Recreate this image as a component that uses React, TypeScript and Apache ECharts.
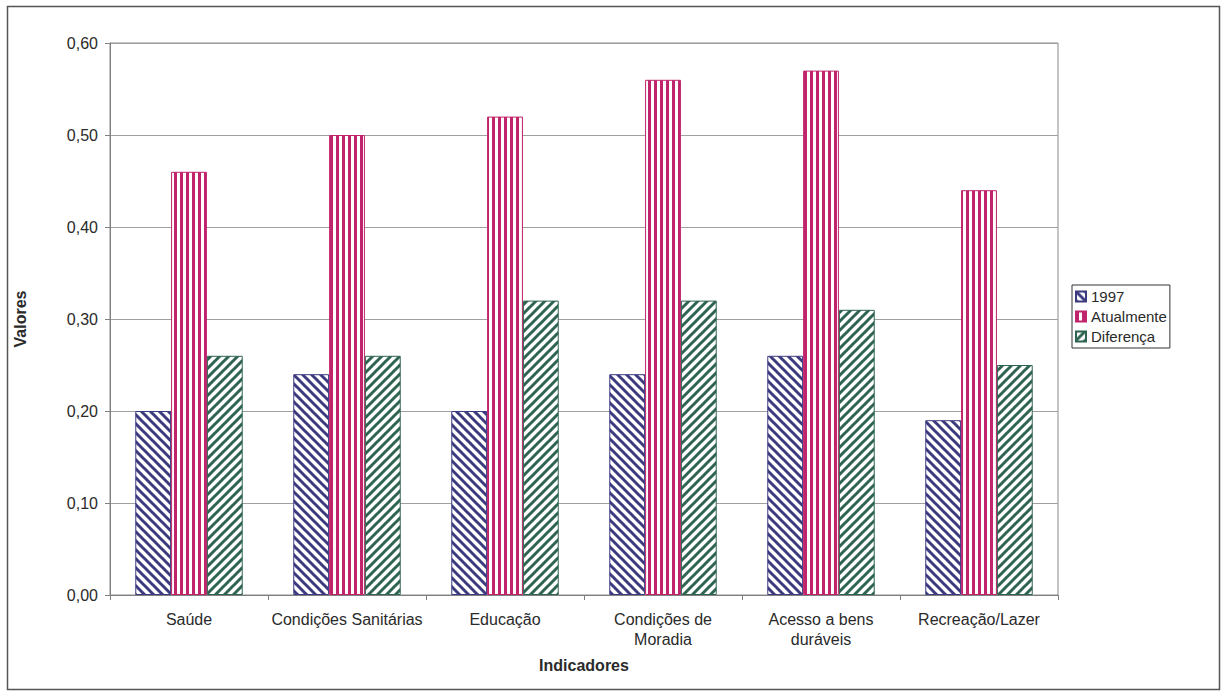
import React, { useEffect, useRef } from "react";
import * as echarts from "echarts";

const categories = [
  "Saúde",
  "Condições Sanitárias",
  "Educação",
  "Condições de\nMoradia",
  "Acesso a bens\nduráveis",
  "Recreação/Lazer",
];
const values1997 = [0.2, 0.24, 0.2, 0.24, 0.26, 0.19];
const valuesAtual = [0.46, 0.5, 0.52, 0.56, 0.57, 0.44];
const valuesDif = [0.26, 0.26, 0.32, 0.32, 0.31, 0.25];
const yTicks = [0, 0.1, 0.2, 0.3, 0.4, 0.5, 0.6];

function makePattern(kind: string, color: string) {
  const c = document.createElement("canvas");
  const s = kind === "vert" ? 6 : 9;
  c.width = s;
  c.height = s;
  const ctx = c.getContext("2d")!;
  ctx.fillStyle = "#ffffff";
  ctx.fillRect(0, 0, s, s);
  ctx.strokeStyle = color;
  ctx.fillStyle = color;
  if (kind === "vert") {
    ctx.fillRect(0, 0, 3, s);
  } else {
    ctx.lineWidth = 3;
    ctx.lineCap = "square";
    for (let k = -1; k <= 1; k++) {
      ctx.beginPath();
      if (kind === "back") {
        ctx.moveTo(k * s - 1, -1);
        ctx.lineTo(k * s + s + 1, s + 1);
      } else {
        ctx.moveTo(k * s - 1, s + 1);
        ctx.lineTo(k * s + s + 1, -1);
      }
      ctx.stroke();
    }
  }
  return { image: c as any, repeat: "repeat", imageWidth: s, imageHeight: s } as any;
}

export default function App() {
  const ref = useRef<HTMLDivElement>(null);
  useEffect(() => {
    const chart = echarts.init(ref.current!, undefined, { renderer: "svg" });
    const navy = "#3d3b80";
    const magenta = "#c0256c";
    const green = "#2f6550";
    const font = "'Liberation Sans', Arial, sans-serif";
    const txt = "#2a2a2a";
    const mk = (name: string, data: number[], kind: string, col: string) => ({
      name,
      type: "bar",
      data,
      barGap: "0%",
      barCategoryGap: "32%",
      itemStyle: { color: makePattern(kind, col), borderColor: col, borderWidth: 1 },
    });
    chart.setOption({
      animation: false,
      backgroundColor: "#ffffff",
      textStyle: { fontFamily: font },
      grid: { left: 110, right: 164, top: 43, bottom: 100, show: true, borderColor: "#8a8a8a", borderWidth: 1 },
      legend: {
        orient: "vertical",
        left: 1072,
        top: 285,
        icon: "rect",
        itemWidth: 10,
        itemHeight: 10,
        itemGap: 5,
        padding: [4, 3, 4, 3],
        borderColor: "#333",
        borderWidth: 1,
        textStyle: { fontSize: 15, color: txt, fontFamily: font, padding: [0, 0, 0, 0] },
        data: ["1997", "Atualmente", "Diferença"],
      },
      xAxis: {
        type: "category",
        data: categories,
        name: "Indicadores",
        nameLocation: "middle",
        nameGap: 62,
        nameTextStyle: { fontWeight: "bold", fontSize: 16, color: txt },
        axisLine: { lineStyle: { color: "#808080" } },
        axisTick: { show: true, length: 5, lineStyle: { color: "#808080" } },
        axisLabel: { fontSize: 16, color: txt, margin: 14, lineHeight: 20, interval: 0 },
      },
      yAxis: {
        type: "value",
        min: yTicks[0],
        max: yTicks[yTicks.length - 1],
        interval: 0.1,
        name: "Valores",
        nameLocation: "middle",
        nameRotate: 90,
        nameGap: 82,
        nameTextStyle: { fontWeight: "bold", fontSize: 16, color: txt },
        axisLine: { show: true, lineStyle: { color: "#808080" } },
        axisTick: { show: true, length: 5, lineStyle: { color: "#808080" } },
        axisLabel: {
          fontSize: 16,
          color: txt,
          margin: 12,
          formatter: (v: number) => v.toFixed(2).replace(".", ","),
        },
        splitLine: { lineStyle: { color: "#a0a0a0" } },
      },
      graphic: [
        {
          type: "rect",
          shape: { x: 7.5, y: 6.5, width: 1212, height: 683 },
          style: { fill: "none", stroke: "#555", lineWidth: 1.5 },
          silent: true,
        },
      ],
      series: [
        mk("1997", values1997, "back", navy),
        mk("Atualmente", valuesAtual, "vert", magenta),
        mk("Diferença", valuesDif, "fwd", green),
      ],
    });
    return () => chart.dispose();
  }, []);
  return (
    <div
      ref={ref}
      style={{ position: "fixed", left: 0, top: 0, width: 1222, height: 695, background: "#fff" }}
    />
  );
}
